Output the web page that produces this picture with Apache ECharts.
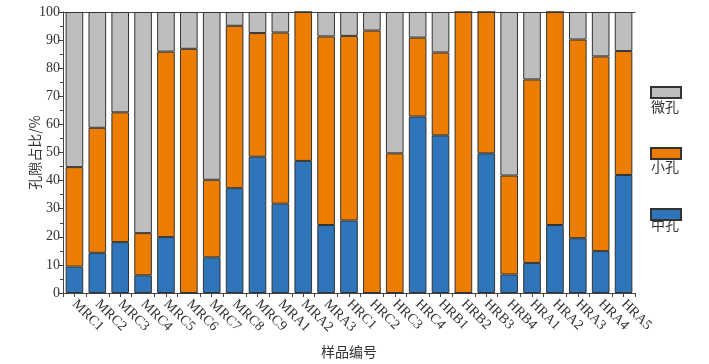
<!DOCTYPE html>
<html>
<head>
<meta charset="utf-8">
<script src="https://cdn.jsdelivr.net/npm/echarts@6/dist/echarts.min.js"></script>
<style>
html,body{margin:0;padding:0;background:#fff;}
#c{width:709px;height:364px;}
</style>
</head>
<body>
<div id="c"></div>
<script>
const categories = ['MRC1','MRC2','MRC3','MRC4','MRC5','MRC6','MRC7','MRC8','MRC9','MRA1','MRA2','MRA3','HRC1','HRC2','HRC3','HRC4','HRB1','HRB2','HRB3','HRB4','HRA1','HRA2','HRA3','HRA4','HRA5'];
// 中孔 (mesopores)
const zhongKong = [9.4,14.3,18.1,6.3,19.9,0,12.7,37.3,48.5,31.8,47.0,24.2,25.8,0,0,62.8,56.1,0,49.7,6.6,10.7,24.2,19.5,14.9,42.0];
// 小孔 (small pores)
const xiaoKong = [35.4,44.5,46.2,15.0,66.0,86.9,27.6,57.8,44.0,60.9,53.0,67.1,65.7,93.4,49.7,28.1,29.5,100,50.3,35.2,65.3,75.8,70.7,69.3,44.1];
// 微孔 (micropores)
const weiKong = [55.2,41.2,35.7,78.7,14.1,13.1,59.7,4.9,7.5,7.3,0,8.7,8.5,6.6,50.3,9.1,14.4,0,0,58.2,24.0,0,9.8,15.8,13.9];
const yTicks = [0,10,20,30,40,50,60,70,80,90,100];

const chart = echarts.init(document.getElementById('c'));
const serif = '"Liberation Serif", "Times New Roman", serif';
const cjk = '"Noto Sans CJK SC", sans-serif';
const axisColor = '#444';
const border = {borderColor:'#333', borderWidth:1};

chart.setOption({
  animation:false,
  backgroundColor:'#fff',
  grid:{left:63, right:74, top:12, bottom:65, containLabel:false},
  legend:{
    orient:'vertical', left:650, top:86, padding:0, icon:'rect',
    itemWidth:30, itemHeight:11, itemGap:48,
    data:['微孔','小孔','中孔'],
    formatter:function(){return '';},
    textStyle:{fontSize:1, lineHeight:1},
    selectedMode:false
  },
  graphic:[
    {type:'text', left:651, top:100, style:{text:'微孔', font:'14px "Noto Sans CJK SC"', fill:'#333'}},
    {type:'text', left:651, top:160, style:{text:'小孔', font:'14px "Noto Sans CJK SC"', fill:'#333'}},
    {type:'text', left:651, top:218, style:{text:'中孔', font:'14px "Noto Sans CJK SC"', fill:'#333'}}
  ],
  xAxis:[
    {
      type:'category', data:categories, position:'bottom',
      name:'样品编号', nameLocation:'middle', nameGap:52,
      nameTextStyle:{fontFamily:cjk, fontSize:14, color:'#333'},
      axisLine:{lineStyle:{color:axisColor, width:1}},
      axisTick:{show:true, length:4, lineStyle:{color:axisColor}},
      axisLabel:{rotate:-45, fontFamily:serif, fontSize:14, color:'#333', margin:9, interval:0},
      splitLine:{show:false}
    },
    {
      type:'category', data:categories, position:'bottom',
      axisLine:{show:false},
      axisTick:{show:true, alignWithLabel:true, length:4, lineStyle:{color:axisColor}},
      axisLabel:{show:false}, splitLine:{show:false}
    },
    {
      type:'category', data:categories, position:'top',
      axisLine:{show:true, lineStyle:{color:axisColor, width:1}},
      axisTick:{show:false}, axisLabel:{show:false}, splitLine:{show:false}
    }
  ],
  yAxis:{
    type:'value', min:yTicks[0], max:yTicks[yTicks.length-1], interval:10,
    name:'孔隙占比/%', nameLocation:'middle', nameGap:21, nameRotate:90, nameMoveOverlap:false,
    nameTextStyle:{fontFamily:cjk, fontSize:14, color:'#333'},
    axisLine:{show:true, lineStyle:{color:axisColor, width:1}},
    axisTick:{show:true, length:4, lineStyle:{color:axisColor}},
    minorTick:{show:true, splitNumber:2, length:3, lineStyle:{color:axisColor}},
    axisLabel:{fontFamily:serif, fontSize:14, color:'#333', margin:3},
    splitLine:{show:false}
  },
  series:[
    {name:'中孔', type:'bar', stack:'a', data:zhongKong, barCategoryGap:'23%', itemStyle:Object.assign({color:'#2E75BA'}, border)},
    {name:'小孔', type:'bar', stack:'a', data:xiaoKong, itemStyle:Object.assign({color:'#ED7D00'}, border)},
    {name:'微孔', type:'bar', stack:'a', data:weiKong, itemStyle:Object.assign({color:'#BFBEBF'}, border)}
  ]
});
</script>
</body>
</html>
